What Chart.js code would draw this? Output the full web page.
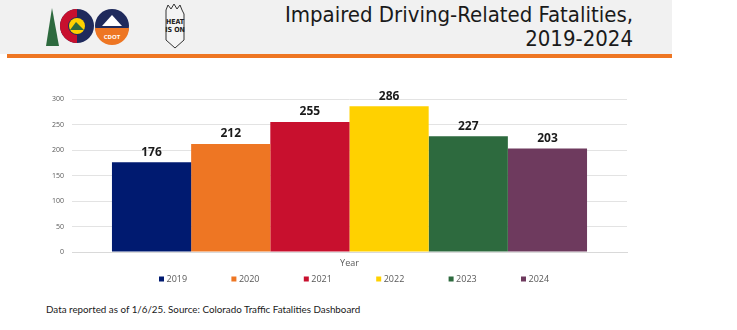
<!DOCTYPE html>
<html lang="en">
<head>
    <meta charset="UTF-8">
    <title>Impaired Driving-Related Fatalities, 2019-2024</title>
    <style>
        body {
            margin: 0;
            width: 737px;
            height: 330px;
            background: #ffffff;
            position: relative;
            overflow: hidden;
            font-family: "Open Sans", sans-serif;
        }
        .header {
            position: absolute;
            left: 0;
            top: 0;
            width: 672px;
            height: 54px;
            background: #f1f1f1;
        }
        .rule {
            position: absolute;
            left: 7px;
            top: 54px;
            width: 665px;
            height: 4px;
            background: #ee7623;
        }
        .title {
            position: absolute;
            right: 104px;
            top: 3px;
            text-align: right;
            font-family: "Liberation Sans Narrow", "DejaVu Sans Condensed", sans-serif;
            font-size: 22px;
            line-height: 24px;
            color: #1a1a1a;
        }
        .logos {
            position: absolute;
            left: 40px;
            top: 2px;
        }
        #chartBox {
            position: absolute;
            left: 20px;
            top: 85px;
            width: 620px;
            height: 210px;
        }
        .note {
            position: absolute;
            left: 46px;
            top: 303px;
            font-family: Lato, sans-serif;
            font-size: 9.8px;
            color: #1a1a1a;
        }
    </style>
</head>
<body>
    <div class="header"></div>
    <div class="rule"></div>
    <svg class="logos" width="170" height="50" viewBox="0 0 170 50">
        <!-- Colorado logo -->
        <polygon points="12,6 6,44 19,44" fill="#2d6a3e"/>
        <circle cx="37" cy="24" r="17" fill="#1f2a5c"/>
        <path d="M37,7 A17,17 0 0,0 37,41 L37,33 A9,9 0 0,1 37,15 Z" fill="#c8102e"/>
        <circle cx="37" cy="24" r="8" fill="#ffd100"/>
        <polygon points="30,28 36,20 44,28" fill="#2d6a3e"/>
        <!-- CDOT logo -->
        <circle cx="72" cy="24" r="17" fill="#1f2a5c"/>
        <path d="M55,26 A17,17 0 0,0 89,26 Z" fill="#ee7623"/>
        <polygon points="62,24 72,13 82,24" fill="#ffffff"/>
        <text x="72" y="37" text-anchor="middle" font-size="6" font-weight="bold" fill="#ffffff" font-family="Open Sans">CDOT</text>
        <!-- Heat is on badge -->
        <path d="M126,8 L128,3 L131,7 L134,2 L137,7 L140,3 L142,8 L144,12 L144,38 L135,46 L126,38 Z" fill="#f4f4f4" stroke="#333" stroke-width="1"/>
        <text x="135" y="22" text-anchor="middle" font-size="7" font-weight="bold" fill="#222" font-family="DejaVu Sans Condensed">HEAT</text>
        <text x="135" y="30" text-anchor="middle" font-size="7" font-weight="bold" fill="#222" font-family="DejaVu Sans Condensed">IS ON</text>
    </svg>
    <div class="title">Impaired Driving-Related Fatalities,<br>2019-2024</div>
    <div id="chartBox"><canvas id="chart"></canvas></div>
    <div class="note">Data reported as of 1/6/25. Source: Colorado Traffic Fatalities Dashboard</div>

    <script src="https://cdn.jsdelivr.net/npm/chart.js"></script>
    <script>
        // Chart data
        const years = ['2019', '2020', '2021', '2022', '2023', '2024'];
        const fatalities = [176, 212, 255, 286, 227, 203];
        const barColors = ['#001a70', '#ee7623', '#c8102e', '#ffd100', '#2d6a3e', '#6e3a5e'];
        const yTicks = [0, 50, 100, 150, 200, 250, 300];

        // One dataset per year so each gets its own colour and legend entry
        const datasets = years.map((yr, i) => ({
            label: yr,
            data: [fatalities[i]],
            backgroundColor: barColors[i],
            borderWidth: 0
        }));

        // Value labels above the bars
        const valueLabels = {
            id: 'valueLabels',
            afterDatasetsDraw(chart) {
                const ctx = chart.ctx;
                ctx.save();
                ctx.font = 'bold 12px "Open Sans", sans-serif';
                ctx.fillStyle = '#1a1a1a';
                ctx.textAlign = 'center';
                ctx.textBaseline = 'bottom';
                chart.data.datasets.forEach((ds, i) => {
                    const bar = chart.getDatasetMeta(i).data[0];
                    ctx.fillText(ds.data[0], bar.x, bar.y - 4);
                });
                ctx.restore();
            }
        };

        // Wide-spaced legend row under the axis title
        const spacedLegend = {
            id: 'spacedLegend',
            afterDraw(chart) {
                const ctx = chart.ctx;
                const area = chart.chartArea;
                const step = 72.4;
                const mid = (area.left + area.right) / 2;
                const y = area.bottom + 27;
                ctx.save();
                ctx.font = '9px "Open Sans", sans-serif';
                ctx.textBaseline = 'middle';
                ctx.textAlign = 'left';
                chart.data.datasets.forEach((ds, i) => {
                    const bx = mid + (i - 2.5) * step - 7;
                    ctx.fillStyle = ds.backgroundColor;
                    ctx.fillRect(bx - 2.5, y - 2.5, 5, 5);
                    ctx.fillStyle = '#595959';
                    ctx.fillText(ds.label, bx + 5, y + 0.5);
                });
                ctx.restore();
            }
        };

        new Chart(document.getElementById('chart'), {
            type: 'bar',
            data: { labels: ['Year'], datasets: datasets },
            options: {
                responsive: true,
                maintainAspectRatio: false,
                animation: false,
                layout: { padding: { left: 12, right: 13, top: 14, bottom: 26 } },
                plugins: {
                    tooltip: { enabled: false },
                    legend: { display: false }
                },
                datasets: {
                    bar: { categoryPercentage: 0.856, barPercentage: 1 }
                },
                scales: {
                    x: {
                        afterFit: s => { s.height = 17; },
                        ticks: { display: false },
                        grid: { display: false, drawTicks: false },
                        border: { color: '#d9d9d9' },
                        title: {
                            display: true,
                            text: 'Year',
                            color: '#595959',
                            font: { family: 'Open Sans', size: 9 },
                            padding: { top: 0, bottom: 0 }
                        }
                    },
                    y: {
                        min: 0,
                        max: 300,
                        afterBuildTicks: s => { s.ticks = yTicks.map(v => ({ value: v })); },
                        afterFit: s => { s.width = 40; },
                        ticks: {
                            color: '#595959',
                            padding: 8,
                            font: { family: 'Open Sans', size: 7 }
                        },
                        grid: { color: '#e3e3e3', drawTicks: false },
                        border: { display: false }
                    }
                }
            },
            plugins: [valueLabels, spacedLegend]
        });
    </script>
</body>
</html>
